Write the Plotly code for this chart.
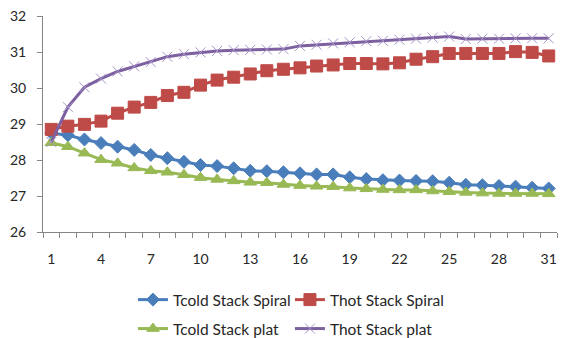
import plotly.graph_objects as go

categories = list(range(1, 32))
tick_labels = [1, 4, 7, 10, 13, 16, 19, 22, 25, 28, 31]

tcold_spiral = [28.75, 28.69, 28.57, 28.47, 28.37, 28.28, 28.14, 28.05, 27.95, 27.86,
                27.83, 27.77, 27.70, 27.69, 27.66, 27.63, 27.60, 27.60, 27.52, 27.47,
                27.44, 27.43, 27.42, 27.41, 27.37, 27.31, 27.30, 27.28, 27.26, 27.23, 27.21]
thot_spiral = [28.85, 28.94, 28.99, 29.08, 29.30, 29.47, 29.60, 29.79, 29.88, 30.08,
               30.22, 30.30, 30.39, 30.48, 30.52, 30.56, 30.61, 30.64, 30.68, 30.68,
               30.67, 30.70, 30.80, 30.87, 30.96, 30.96, 30.96, 30.96, 31.01, 30.99, 30.89]
tcold_plat = [28.48, 28.37, 28.19, 28.01, 27.91, 27.78, 27.70, 27.66, 27.59, 27.51,
              27.46, 27.42, 27.38, 27.37, 27.32, 27.29, 27.27, 27.26, 27.22, 27.20,
              27.18, 27.17, 27.17, 27.14, 27.12, 27.10, 27.08, 27.07, 27.07, 27.07, 27.06]
thot_plat = [28.50, 29.47, 30.02, 30.26, 30.46, 30.60, 30.72, 30.87, 30.94, 30.99,
             31.03, 31.05, 31.06, 31.07, 31.08, 31.17, 31.20, 31.24, 31.27, 31.30,
             31.31, 31.34, 31.37, 31.40, 31.43, 31.36, 31.37, 31.37, 31.38, 31.38, 31.38]

names = ["Tcold Stack Spiral", "Thot Stack Spiral", "Tcold Stack plat", "Thot Stack plat"]
series = [tcold_spiral, thot_spiral, tcold_plat, thot_plat]
colors = ["#4A7EBB", "#BE4B48", "#98B954", "#7D60A0"]
symbols = ["diamond", "square", "triangle-up", "x-thin"]
sizes = [10, 12, 11, 10]
legends = ["legend", "legend", "legend2", "legend2"]

fig = go.Figure()
for name, vals, c, s, sz, lg in zip(names, series, colors, symbols, sizes, legends):
    marker = dict(symbol=s, size=sz, color=c, line=dict(color=c, width=1))
    if s == "x-thin":
        marker = dict(symbol=s, size=sz, color="#A593C8", line=dict(color="#A593C8", width=1))
    fig.add_trace(go.Scatter(
        x=categories, y=vals, name=name, mode="lines+markers",
        line=dict(color=c, width=3), marker=marker, legend=lg,
    ))

font = dict(family="Lato, 'Open Sans', sans-serif", size=14, color="#262626")
lfont = dict(family="Lato, 'Open Sans', sans-serif", size=15.5, color="#262626")

fig.update_layout(
    width=561, height=338,
    margin=dict(l=43, r=4, t=16, b=106, autoexpand=False),
    paper_bgcolor="white", plot_bgcolor="white",
    font=font,
    showlegend=True,
    legend=dict(orientation="h", x=0.175, y=-0.315, xanchor="left", yanchor="middle",
                entrywidth=112, entrywidthmode="pixels", font=lfont,
                bgcolor="rgba(0,0,0,0)", itemwidth=30),
    legend2=dict(orientation="h", x=0.175, y=-0.449, xanchor="left", yanchor="middle",
                 entrywidth=112, entrywidthmode="pixels", font=lfont,
                 bgcolor="rgba(0,0,0,0)", itemwidth=30),
)
fig.update_xaxes(
    range=[0.5, 31.5], tickmode="array", tickvals=tick_labels,
    ticktext=[str(t) for t in tick_labels], ticks="", ticklabelstandoff=14,
    showline=True, linecolor="#868686", linewidth=1, showgrid=False, zeroline=False,
    minor=dict(ticks="outside", tick0=0.5, dtick=1, ticklen=5, tickcolor="#868686", showgrid=False),
    tickfont=font,
)
fig.update_yaxes(
    range=[26, 32], dtick=1, ticks="outside", ticklen=5, tickcolor="#868686",
    showline=True, linecolor="#868686", linewidth=1, showgrid=False, zeroline=False,
    ticklabelstandoff=8, tickfont=font,
)

fig.write_html("out.html")
